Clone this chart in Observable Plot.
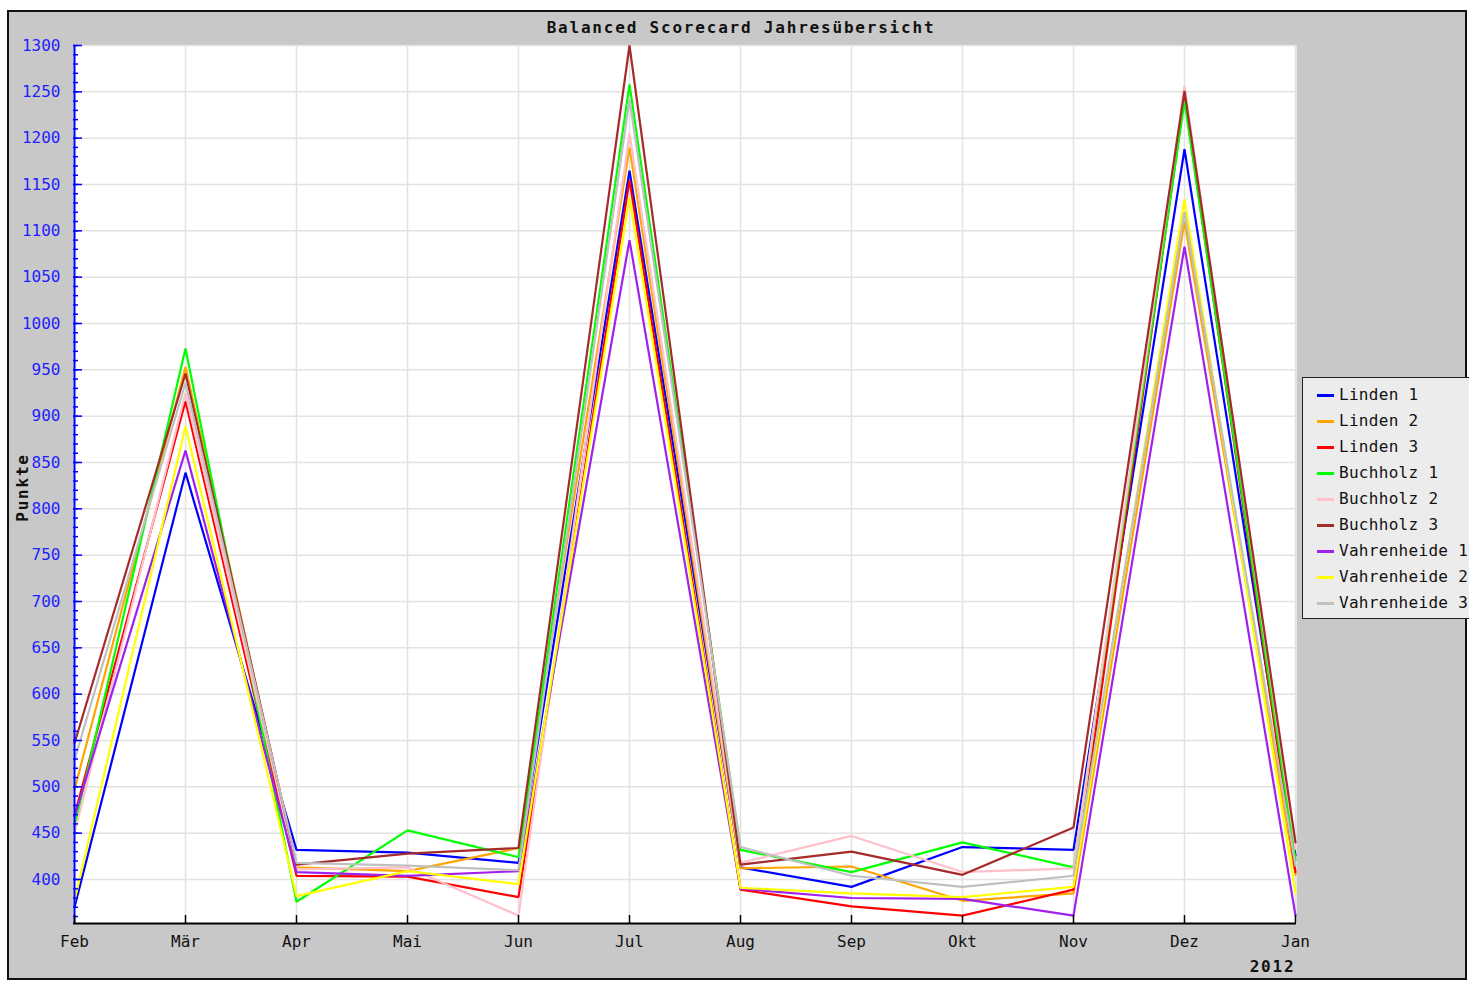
<!DOCTYPE html>
<html>
<head>
<meta charset="utf-8">
<script src="https://cdn.jsdelivr.net/npm/d3@7"></script>
<script src="https://cdn.jsdelivr.net/npm/@observablehq/plot@0.6"></script>
<style>
  html, body { margin: 0; padding: 0; background: #ffffff; }
  #wrap { position: relative; width: 1469px; height: 981px; overflow: hidden; }
  #frame { position: absolute; left: 7px; top: 10px; width: 1456px; height: 966px;
           background: #c8c8c8; border: 2px solid #111; }
  #chart { position: absolute; left: 0; top: 0; }
  #chart svg g[font-weight="bold"] text { letter-spacing: 1.8px; }
  #legend { position: absolute; left: 1302px; top: 377px; width: 170px; height: 242px;
            background: #ececec; border: 1px solid #222; box-sizing: border-box;
            font-family: "DejaVu Sans Mono", monospace; font-size: 16px; color: #111; }
  .item { position: absolute; left: 14px; height: 26px; line-height: 26px; letter-spacing: 0.3px; }
  .sw { position: absolute; left: 0; top: 12px; width: 17px; height: 3px; }
  .lbl { position: absolute; left: 22px; top: 0; white-space: nowrap; }
</style>
</head>
<body>
<div id="wrap">
  <div id="frame"></div>
  <div id="chart"></div>
  <div id="legend"></div>
</div>
<script>
const months = ["Feb","Mär","Apr","Mai","Jun","Jul","Aug","Sep","Okt","Nov","Dez","Jan"];
const seriesNames = ["Linden 1","Linden 2","Linden 3","Buchholz 1","Buchholz 2","Buchholz 3","Vahrenheide 1","Vahrenheide 2","Vahrenheide 3"];
const seriesColors = ["#0000ff","#ffa500","#ff0000","#00ff00","#ffc0cb","#a52a2a","#a020f0","#ffff00","#c0c0c0"];

const linden1      = [370, 839, 432, 429, 418, 1165, 413, 392, 435, 432, 1188, 426];
const linden2      = [497, 953, 413, 409, 434, 1190, 412, 414, 377, 385, 1110, 405];
const linden3      = [469, 916, 404, 403, 381, 1155, 389, 371, 361, 389, 1245, 408];
const buchholz1    = [457, 973, 376, 453, 424, 1258, 432, 408, 440, 413, 1240, 421];
const buchholz2    = [450, 925, 411, 413, 361, 1205, 418, 447, 408, 412, 1256, 433];
const buchholz3    = [547, 946, 416, 428, 434, 1300, 416, 430, 405, 456, 1251, 440];
const vahrenheide1 = [468, 863, 408, 404, 409, 1090, 390, 380, 379, 361, 1083, 361];
const vahrenheide2 = [377, 889, 382, 409, 395, 1136, 391, 385, 381, 392, 1134, 385];
const vahrenheide3 = [529, 936, 418, 415, 410, 1242, 435, 404, 392, 404, 1120, 415];

const seriesValues = [linden1, linden2, linden3, buchholz1, buchholz2, buchholz3, vahrenheide1, vahrenheide2, vahrenheide3];

const yMajor = d3.range(400, 1301, 50);
const yMinor = d3.range(360, 1301, 10);
const yMin = 352.5, yMax = 1300;

const rows = [];
seriesNames.forEach((name, i) => {
  months.forEach((m, j) => rows.push({series: name, month: m, value: seriesValues[i][j]}));
});

const W = 1469, H = 981, mL = 73, mR = 173, mT = 45, mB = 58;
const plotW = W - mL - mR, plotH = H - mT - mB;

const chart = Plot.plot({
  width: W, height: H,
  marginLeft: mL, marginRight: mR, marginTop: mT, marginBottom: mB,
  style: {fontFamily: "DejaVu Sans Mono, monospace", fontSize: "16px", background: "transparent", overflow: "visible"},
  x: {type: "point", domain: months, padding: 0},
  y: {domain: [yMin, yMax]},
  color: {domain: seriesNames, range: seriesColors},
  marks: [
    Plot.frame({fill: "white", stroke: null}),
    Plot.gridY(yMajor, {stroke: "#e2e2e2", strokeOpacity: 1, strokeWidth: 1.5}),
    Plot.gridX(months, {stroke: "#e2e2e2", strokeOpacity: 1, strokeWidth: 1.5}),
    Plot.line(rows, {x: "month", y: "value", z: "series", stroke: "series", strokeWidth: 2.2, strokeLinejoin: "miter"}),
    Plot.ruleX([months[0]], {stroke: "#0000ff", strokeWidth: 2}),
    Plot.ruleY([yMin], {stroke: "#000", strokeWidth: 2}),
    Plot.tickY(yMinor, {y: d => d, stroke: "#0000ff", strokeWidth: 1.5, insetRight: plotW - 5}),
    Plot.tickY(yMajor, {y: d => d, stroke: "#0000ff", strokeWidth: 1.5, insetRight: plotW - 9}),
    Plot.tickX(months, {x: d => d, stroke: "#000", strokeWidth: 1.5, insetTop: plotH - 8}),
    Plot.axisY(yMajor, {tickSize: 0, tickPadding: 13, fill: "#1f1fff", label: null, fontSize: 16, tickFormat: d => String(d)}),
    Plot.axisX(months, {tickSize: 0, tickPadding: 12, fill: "#111", label: null, fontSize: 16}),
    Plot.text(["Punkte"], {text: d => d, frameAnchor: "left", dx: -51, dy: 3, rotate: -90, textAnchor: "middle", lineAnchor: "middle", fontWeight: "bold", fontSize: 16, fill: "#111"}),
    Plot.text(["2012"], {text: d => d, frameAnchor: "bottom-right", dx: -24, dy: 43, textAnchor: "middle", lineAnchor: "middle", fontWeight: "bold", fontSize: 16, fill: "#111"}),
    Plot.text(["Balanced Scorecard Jahresübersicht"], {text: d => d, frameAnchor: "top", dx: (W / 2 + 6) - (mL + plotW / 2), dy: -18, lineAnchor: "middle", fontWeight: "bold", fontSize: 16, fill: "#111"})
  ]
});
document.getElementById("chart").appendChild(chart);

const legend = document.getElementById("legend");
seriesNames.forEach((name, i) => {
  const it = document.createElement("div");
  it.className = "item";
  it.style.top = (4 + i * 26) + "px";
  const sw = document.createElement("div");
  sw.className = "sw";
  sw.style.background = seriesColors[i];
  const lb = document.createElement("div");
  lb.className = "lbl";
  lb.textContent = name;
  it.appendChild(sw); it.appendChild(lb);
  legend.appendChild(it);
});
</script>
</body>
</html>
